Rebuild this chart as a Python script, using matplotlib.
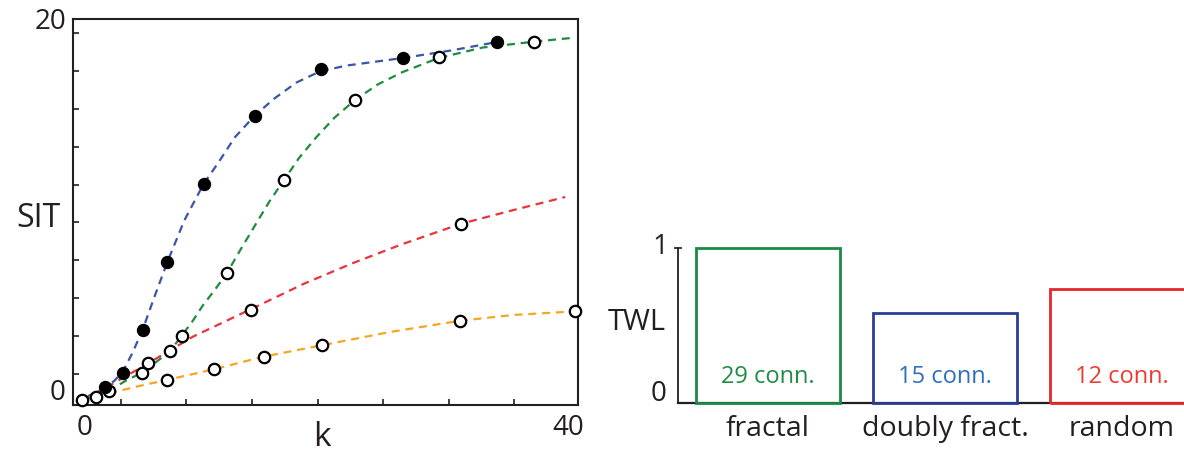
import matplotlib

matplotlib.use("Agg")
import matplotlib.pyplot as plt

plt.rcParams["font.family"] = ["Open Sans", "DejaVu Sans"]

INK = "#231f20"
BLUE = "#3a55a8"
GREEN = "#1e8c3e"
RED = "#e8343a"
ORANGE = "#f5a623"

# SIT vs k: measured points
blue_k = [1.83, 3.31, 4.92, 6.93, 9.88, 14.0, 19.35, 26.07, 33.65]
blue_sit = [0.71, 1.45, 3.72, 7.31, 11.45, 15.04, 17.49, 18.09, 18.94]

start_k = [0.0, 1.15, 2.23]
start_sit = [0.0, 0.18, 0.48]
green_k = [4.86, 7.16, 8.09, 11.77, 16.38, 22.17, 28.95, 36.69]
green_sit = [1.43, 2.6, 3.4, 6.73, 11.63, 15.88, 18.15, 18.94]
red_k = [5.39, 13.75, 30.77]
red_sit = [1.96, 4.78, 9.33]
orange_k = [6.87, 10.74, 14.77, 19.5, 30.65, 40.0]
orange_sit = [1.06, 1.63, 2.3, 2.9, 4.19, 4.69]

# fitted (dashed) curves
blue_fit_k = [0.5, 1.83, 2.6, 3.31, 4.1, 4.92, 5.9, 6.93, 8.3, 9.88, 11.0, 12.4, 14.0,
              15.6, 17.4, 19.35, 21.5, 23.8, 26.07, 30.0, 33.65]
blue_fit_sit = [0.2, 0.71, 1.0, 1.5, 2.5, 3.72, 5.5, 7.31, 9.5, 11.45, 12.5, 13.9, 15.04,
                15.95, 16.8, 17.4, 17.7, 17.9, 18.1, 18.5, 18.94]
green_fit_k = [0.0, 1.15, 2.23, 3.5, 4.86, 6.0, 7.16, 8.09, 9.0, 9.8, 10.8, 11.77, 12.9,
               14.0, 15.2, 16.38, 17.6, 19.0, 20.5, 22.17, 24.0, 26.0, 28.95, 32.5, 36.69, 39.6]
green_fit_sit = [0.0, 0.18, 0.5, 1.0, 1.45, 2.0, 2.6, 3.4, 4.2, 5.0, 5.85, 6.73, 8.0,
                 9.2, 10.5, 11.63, 12.8, 13.9, 14.95, 15.88, 16.7, 17.35, 18.1, 18.65, 18.96, 19.15]
red_fit_k = [0.0, 2.2, 5.39, 9.0, 13.75, 18.0, 22.0, 26.0, 30.77, 35.0, 39.2]
red_fit_sit = [0.0, 0.75, 1.95, 3.35, 4.82, 6.15, 7.25, 8.25, 9.33, 10.05, 10.74]
orange_fit_k = [2.2, 4.5, 6.87, 10.74, 14.77, 19.5, 25.0, 30.65, 35.0, 40.0]
orange_fit_sit = [0.35, 0.72, 1.06, 1.63, 2.3, 2.9, 3.6, 4.19, 4.5, 4.69]

sit_ticks = [1.4 + 2.0 * i for i in range(10)]
k_ticks = [3.15 + 5.32 * i for i in range(7)]

# TWL bars
networks = ["fractal", "doubly fract.", "random"]
twl = [1.0, 0.58, 0.734]
connections = ["29 conn.", "15 conn.", "12 conn."]
bar_colors = ["#1a8a48", "#2a3d95", "#e8252d"]
text_colors = ["#1e8c45", "#2e6fc0", "#ee3b32"]

W, H = 1184, 455
fig = plt.figure(figsize=(W / 100, H / 100), dpi=100)


def fx(px):
    return px / W


def fy(py):
    return 1 - py / H


# left panel: SIT against k
ax = fig.add_axes([fx(73), fy(405), fx(578 - 73), (405 - 19) / H])
ax.set_xlim(-0.73, 40.24)
ax.set_ylim(-0.265, 20.16)
dash = dict(linestyle=(0, (3.6, 2.6)), linewidth=1.6, zorder=2)
ax.plot(orange_fit_k, orange_fit_sit, color=ORANGE, **dash)
ax.plot(red_fit_k, red_fit_sit, color=RED, **dash)
ax.plot(green_fit_k, green_fit_sit, color=GREEN, **dash)
ax.plot(blue_fit_k, blue_fit_sit, color=BLUE, **dash)

open_style = dict(linestyle="none", marker="o", markersize=8.2, markerfacecolor="white",
                  markeredgecolor="black", markeredgewidth=1.6, zorder=4, clip_on=False)
for ks, ss in [(start_k, start_sit), (green_k, green_sit), (red_k, red_sit), (orange_k, orange_sit)]:
    ax.plot(ks, ss, **open_style)
ax.plot(blue_k, blue_sit, linestyle="none", marker="o", markersize=8.6, color="black",
        zorder=5, clip_on=False)

ax.set_xticks(k_ticks)
ax.set_yticks(sit_ticks)
ax.tick_params(direction="in", length=4, width=1.2, color=INK, labelbottom=False, labelleft=False)
for sp in ax.spines.values():
    sp.set_linewidth(1.5)
    sp.set_color(INK)

fig.text(fx(51), fy(22), "20", fontsize=20, color=INK, ha="center", va="center")
fig.text(fx(58), fy(393), "0", fontsize=20, color=INK, ha="center", va="center")
fig.text(fx(85), fy(428), "0", fontsize=20, color=INK, ha="center", va="center")
fig.text(fx(568), fy(428), "40", fontsize=20, color=INK, ha="center", va="center")
fig.text(fx(38), fy(218), "SIT", fontsize=23, color=INK, ha="center", va="center")
fig.text(fx(322), fy(437), "k", fontsize=24, color=INK, ha="center", va="center")

# right panel: TWL per network type
bx = fig.add_axes([fx(678), fy(403), 1 - fx(678), (403 - 248) / H])
bx.set_xlim(-0.508, 2.35)
bx.set_ylim(0, 1)
positions = range(len(networks))
bx.bar(positions, twl, width=0.81, facecolor="none", edgecolor=bar_colors, linewidth=2.0,
       clip_on=False, zorder=3)
for sp in ["top", "right"]:
    bx.spines[sp].set_visible(False)
bx.spines["left"].set_linewidth(1.3)
bx.spines["bottom"].set_linewidth(1.6)
bx.spines["left"].set_color(INK)
bx.spines["bottom"].set_color(INK)
bx.set_xticks([])
bx.set_yticks([1])
bx.tick_params(axis="y", direction="inout", length=6, width=1.2, color=INK, labelleft=False)

for pos, conn, col in zip(positions, connections, text_colors):
    bx.text(pos, 0.17, conn, fontsize=17, color=col, ha="center", va="center")
for pos, name in zip(positions, networks):
    bx.text(pos, -0.17, name, fontsize=20.5, color=INK, ha="center", va="center")

fig.text(fx(660), fy(247), "1", fontsize=20, color=INK, ha="center", va="center")
fig.text(fx(659), fy(394), "0", fontsize=20, color=INK, ha="center", va="center")
fig.text(fx(637), fy(322), "TWL", fontsize=21, color=INK, ha="center", va="center")

fig.savefig("out.png", dpi=100)
